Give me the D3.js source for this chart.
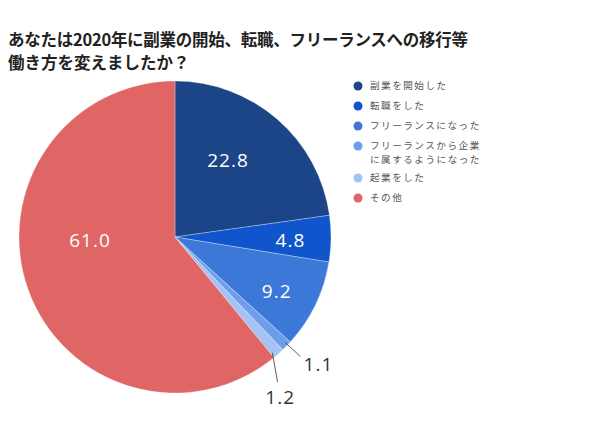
<!DOCTYPE html>
<html>
<head>
<meta charset="utf-8">
<script src="https://cdn.jsdelivr.net/npm/d3@7"></script>
<style>
  body { margin: 0; background: #fff; }
  svg { display: block; }
</style>
</head>
<body>
<svg width="590" height="429"></svg>
<script>
// categories and values (%)
const categories = ["副業を開始した", "転職をした", "フリーランスになった", "フリーランスから企業に属するようになった", "起業をした", "その他"];
const legendLines = [["副業を開始した"], ["転職をした"], ["フリーランスになった"], ["フリーランスから企業", "に属するようになった"], ["起業をした"], ["その他"]];
const values = [22.8, 4.8, 9.2, 1.1, 1.2, 61.0];
const colors = ["#1c4587", "#1155cc", "#3c78d8", "#6d9eeb", "#a4c2f4", "#e06666"];
const titleLines = ["あなたは2020年に副業の開始、転職、フリーランスへの移行等", "働き方を変えましたか？"];

const svg = d3.select('svg');
const cx = 175, cy = 237, r = 156;
const font = "'Noto Sans CJK JP', 'Noto Sans', sans-serif";
const numFont = "'Open Sans', sans-serif";

// title
svg.selectAll('text.title')
  .data(titleLines)
  .join('text')
  .attr('class', 'title')
  .attr('x', 8)
  .attr('y', (d, i) => 46 + i * 23)
  .attr('font-family', font)
  .attr('font-size', 16.5)
  .attr('font-weight', 'bold')
  .attr('fill', '#222')
  .attr('textLength', (d, i) => i == 0 ? 460 : null)
  .text(d => d);

const pie = d3.pie().sort(null).value(d => d);
const arcs = pie(values);
const arc = d3.arc().innerRadius(0).outerRadius(r);

const g = svg.append('g').attr('transform', `translate(${cx},${cy})`);

g.selectAll('path')
  .data(arcs)
  .join('path')
  .attr('d', arc)
  .attr('fill', (d, i) => colors[i])
  .attr('stroke', '#fff')
  .attr('stroke-width', 0.3);

const rad = Math.PI / 180;
function pt(a, rr) { return [Math.sin(a) * rr, -Math.cos(a) * rr]; }

// labels inside the big slices (radius fraction, angle shift in degrees)
const inside = { 0: [0.6, -6.5], 1: [0.74, 0.8], 2: [0.74, 2.4], 5: [0.545, 17.6] };
arcs.forEach((d, i) => {
  if (!inside[i]) return;
  const a = (d.startAngle + d.endAngle) / 2 + inside[i][1] * rad;
  const p = pt(a, r * inside[i][0]);
  g.append('text')
    .attr('x', p[0])
    .attr('y', p[1])
    .attr('text-anchor', 'middle')
    .attr('dy', '0.35em')
    .attr('font-family', numFont)
    .attr('font-size', 19)
    .attr('letter-spacing', 1)
    .attr('fill', '#fff')
    .text(values[i].toFixed(1));
});

// small slices: leader lines and outside labels
const outer = [
  { i: 3, a0: -0.6, r0: 0.98, a1: -0.7, r1: 1.11, la: -2.7, lr: 1.23 },
  { i: 4, a0: 1.5, r0: 0.97, a1: 6.3, r1: 1.14, la: 8.3, lr: 1.23 }
];
outer.forEach(o => {
  const d = arcs[o.i];
  const a = (d.startAngle + d.endAngle) / 2;
  const p0 = pt(a + o.a0 * rad, r * o.r0);
  const p1 = pt(a + o.a1 * rad, r * o.r1);
  g.append('line')
    .attr('x1', p0[0]).attr('y1', p0[1])
    .attr('x2', p1[0]).attr('y2', p1[1])
    .attr('stroke', '#333')
    .attr('stroke-width', 0.8);
  const p2 = pt(a + o.la * rad, r * o.lr);
  g.append('text')
    .attr('x', p2[0])
    .attr('y', p2[1])
    .attr('text-anchor', 'middle')
    .attr('dy', '0.35em')
    .attr('font-family', numFont)
    .attr('font-size', 19)
    .attr('letter-spacing', 1)
    .attr('fill', '#333')
    .text(values[o.i].toFixed(1));
});

// legend
const legendY = [86, 106, 126, 145.5, 178, 198];
const lg = svg.append('g');
categories.forEach((c, i) => {
  lg.append('circle')
    .attr('cx', 358)
    .attr('cy', legendY[i] + (i == 3 ? 0.5 : 0))
    .attr('r', 4.5)
    .attr('fill', colors[i]);
  legendLines[i].forEach((t, j) => {
    lg.append('text')
      .attr('x', 370)
      .attr('y', legendY[i] + j * 14)
      .attr('dy', '0.35em')
      .attr('font-family', font)
      .attr('font-size', 9.6)
      .attr('letter-spacing', 1.5)
      .attr('fill', '#555')
      .text(t);
  });
});
</script>
</body>
</html>
